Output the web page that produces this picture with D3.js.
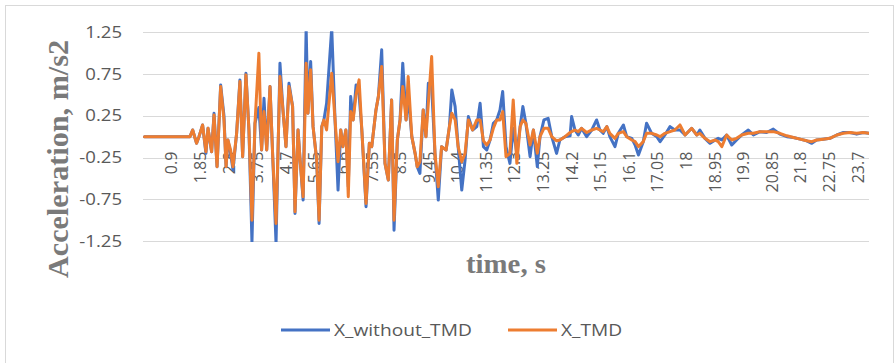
<html>

<head>
    <style>
        body {
            margin: 0;
            font-family: "Open Sans", Arial, sans-serif;
            background: #ffffff;
        }
    </style>

    <script src="https://cdn.jsdelivr.net/npm/d3@7"></script>
</head>

<body>
    <svg id="Grafico"></svg>

<script>
    // tiempo de cada vertice (s)
    let tiempo = [0, 1.51, 1.60, 1.73, 1.81, 1.93, 2.04, 2.11, 2.23, 2.31, 2.41, 2.53, 2.64, 2.71, 2.77, 2.86, 2.94,
        3.06, 3.17, 3.26, 3.37, 3.47, 3.57, 3.67, 3.80, 3.89, 3.97, 4.06, 4.17, 4.26, 4.37, 4.50, 4.60, 4.70, 4.80,
        4.92, 5.00, 5.10, 5.17, 5.27, 5.37, 5.43, 5.52, 5.60, 5.72, 5.80, 5.89, 5.96, 6.05, 6.22, 6.33, 6.43, 6.52,
        6.59, 6.69, 6.77, 6.85, 6.93, 7.03, 7.13, 7.22, 7.36, 7.47, 7.55, 7.69, 7.77, 7.88, 7.99, 8.10, 8.21, 8.29,
        8.40, 8.49, 8.58, 8.69, 8.76, 8.88, 8.99, 9.06, 9.15, 9.26, 9.35, 9.43, 9.54, 9.65, 9.76, 9.87, 10.02, 10.13,
        10.21, 10.32, 10.42, 10.54, 10.65, 10.76, 10.90, 11.04, 11.15, 11.26, 11.37, 11.48, 11.59, 11.70, 11.81,
        11.90, 12.01, 12.14, 12.25, 12.37, 12.48, 12.57, 12.67, 12.81, 12.92, 13.05, 13.14, 13.27, 13.41, 13.53,
        13.69, 13.80, 13.97, 14.14, 14.19, 14.30, 14.41, 14.52, 14.69, 14.86, 15.02, 15.13, 15.24, 15.36, 15.46,
        15.63, 15.74, 15.91, 16.02, 16.19, 16.30, 16.41, 16.57, 16.68, 16.85, 17.02, 17.13, 17.29, 17.46, 17.62,
        17.79, 17.96, 18.18, 18.35, 18.45, 18.62, 18.79, 18.96, 19.06, 19.18, 19.34, 19.51, 19.67, 19.84, 20.06,
        20.23, 20.45, 20.67, 20.89, 21.11, 21.34, 21.56, 21.78, 22.00, 22.17, 22.33, 22.55, 22.77, 23.00, 23.22,
        23.44, 23.66, 23.88, 24.07];

    let sinTMD = [0, 0, 0.08, -0.08, 0, 0.14, -0.2, 0.1, -0.18, 0.28, -0.36, 0.62, 0.25, -0.36, -0.04, -0.2, -0.4,
        0.04, 0.68, -0.24, 0.76, 0.08, -1.26, 0.16, 0.35, -0.16, 0.46, -0.16, 0.6, -0.24, -1.28, 0.88, 0.32, -0.12, 0.64,
        0.36, -0.92, 0.08, -0.28, -0.76, 1.3, 0.28, 0.9, 0.12, -0.28, -1.04, 0.12, 0.2, 0.4, 1.3, 0.2, -0.64, 0.08,
        -0.12, 0.08, -0.6, 0.48, 0.2, 0.62, 0.5, 0.08, -0.84, -0.08, -0.12, 0.32, 0.48, 1.04, -0.32, -0.52, 0.44, -1.12,
        -0.04, 0.2, 0.88, 0.2, 0.5, 0, -0.2, -0.36, -0.44, 0.32, 0, 0.64, 0.6, -0.2, -0.76, -0.12, -0.16, 0.12,
        0.56, 0.36, -0.12, -0.64, -0.28, 0.24, 0.08, 0.12, 0.4, -0.12, -0.16, -0.04, 0.16, 0.2, 0.32,
        0.54, -0.12, -0.32, 0.1, -0.2, 0.12, 0.36, 0.16, -0.24, 0.08, -0.36, 0, 0.2, 0.22, 0,
        -0.2, -0.04, 0, 0.01, 0.24, 0.08, 0.02, 0.1, 0, 0.08, 0.2, 0.08, 0.04, 0.12, 0,
        -0.12, 0.04, 0.14, 0, -0.02, -0.1, -0.22, -0.06, 0.16, 0.04, 0, -0.06, 0.02, 0.12, 0.08,
        0.08, 0.02, 0.1, 0.02, 0.08, -0.02, -0.08, -0.04, -0.02, -0.04, 0.02, -0.1, -0.04, 0.02, 0.08,
        0.02, 0.06, 0.05, 0.09, 0.03, 0, -0.01, -0.03, -0.05, -0.08, -0.04, -0.03, -0.02, 0.02, 0.05,
        0.05, 0.03, 0.05, 0.04];

    let conTMD = [0, 0, 0.08, -0.08, 0, 0.14, -0.18, 0.1, -0.18, 0.26, -0.36, 0.6, 0.2, -0.36, -0.04, -0.16, -0.36,
        0.04, 0.66, -0.24, 0.74, 0.08, -1.0, 0.16, 1.0, -0.16, 0.3, -0.16, 0.6, -0.24, -1.04, 0.72, 0.32, -0.12, 0.6,
        0.36, -0.9, 0.08, -0.28, -0.72, 0.88, 0.28, 0.8, 0.12, -0.28, -1.0, 0.12, 0.2, 0.08, 0.76, 0.2, -0.3, 0.08,
        -0.12, 0.08, -0.72, 0.3, 0.2, 0.5, 0.68, 0.08, -0.8, -0.08, -0.12, 0.32, 0.48, 0.84, -0.32, -0.52, 0.44, -1.0,
        -0.04, 0.2, 0.6, 0.2, 0.72, 0, -0.2, -0.36, -0.3, 0.32, 0, 0.4, 0.96, -0.2, -0.6, -0.12, -0.16, 0.12,
        0.28, 0.2, -0.12, -0.3, -0.2, 0.2, 0.08, 0.2, 0.2, -0.05, -0.1, -0.04, 0.1, 0.2, 0.2,
        0.3, -0.24, -0.2, 0.44, -0.32, 0.12, 0.2, 0.16, -0.1, 0.08, -0.2, 0, 0.1, 0.1, 0,
        -0.05, -0.04, 0, 0.05, 0.06, 0.08, 0.06, 0.1, 0.05, 0.08, 0.1, 0.08, 0.06, 0.12, 0.04,
        -0.02, 0.04, 0.06, 0, -0.04, -0.06, -0.12, -0.06, 0.04, 0.04, 0.02, 0, 0.04, 0.06, 0.08,
        0.14, 0.02, 0.1, 0.02, 0.04, -0.02, -0.06, -0.04, -0.06, -0.12, 0.02, -0.04, -0.02, 0.02, 0.04,
        0.04, 0.06, 0.06, 0.06, 0.04, 0.01, -0.01, -0.03, -0.05, -0.06, -0.04, -0.03, -0.02, 0.02, 0.04,
        0.05, 0.04, 0.05, 0.04];

    let marcasX = ["0.9", "1.85", "2.8", "3.75", "4.7", "5.65", "6.6", "7.55", "8.5", "9.45", "10.4", "11.35",
        "12.3", "13.25", "14.2", "15.15", "16.1", "17.05", "18", "18.95", "19.9", "20.85", "21.8", "22.75", "23.7"];
    let marcasY = [-1.25, -0.75, -0.25, 0.25, 0.75, 1.25];

    let series = [
        { nombre: "X_without_TMD", valores: sinTMD, color: "#4472C4" },
        { nombre: "X_TMD", valores: conTMD, color: "#ED7D31" }
    ];

    // el grafico original esta un poco estirado en horizontal
    const estiramiento = 1.16;

    function configuracion() {
        let ancho = 895;
        let alto = 363;
        let area = { left: 143, right: 869, top: 32.3, bottom: 241 };
        let contenedor = d3.select("#Grafico")
            .attr("width", ancho)
            .attr("height", alto);
        return { ancho, alto, area, contenedor };
    }

    function escalas(conf) {
        let { area } = conf;
        let escalaX = d3.scaleLinear()
            .domain([-0.05, 24.07])
            .range([area.left, area.right]);
        let escalaY = d3.scaleLinear()
            .domain([-1.25, 1.25])
            .range([area.bottom, area.top]);
        return { escalaX, escalaY };
    }

    function estirar(seleccion) {
        seleccion.each(function () {
            let largo = this.getComputedTextLength();
            d3.select(this)
                .attr("textLength", largo * estiramiento)
                .attr("lengthAdjust", "spacingAndGlyphs");
        });
    }

    function dibujarMarco(conf) {
        conf.contenedor.append("rect")
            .attr("width", conf.ancho).attr("height", conf.alto).attr("fill", "#ffffff");
        conf.contenedor.append("rect")
            .attr("x", 5.5).attr("y", 5.5)
            .attr("width", 888).attr("height", 362)
            .attr("fill", "none")
            .attr("stroke", "#d9d9d9");
    }

    function dibujarEjes(conf, esc) {
        let { contenedor, area } = conf;
        let { escalaX, escalaY } = esc;

        // lineas de la rejilla y linea del eje en 0
        contenedor.append("g")
            .selectAll("line")
            .data(marcasY.concat([0]))
            .enter().append("line")
                .attr("x1", area.left).attr("x2", area.right)
                .attr("y1", d => Math.round(escalaY(d)) + 0.5)
                .attr("y2", d => Math.round(escalaY(d)) + 0.5)
                .attr("stroke", "#d9d9d9")
                .attr("stroke-width", 1);

        let ejeY = d3.axisLeft(escalaY)
            .tickValues(marcasY)
            .tickSize(0)
            .tickPadding(0)
            .tickFormat(d => d.toFixed(2));   // guion normal, no el signo menos unicode
        let gY = contenedor.append("g")
            .attr("transform", `translate(${area.left - 21},0)`)
            .call(ejeY);
        gY.select(".domain").remove();
        gY.selectAll("text")
            .attr("fill", "#595959")
            .style("font-family", '"Open Sans", sans-serif')
            .style("font-size", "16px")
            .call(estirar);

        // etiquetas verticales del eje de categorias, colgadas bajo la linea del 0
        let y0 = escalaY(0);
        contenedor.append("g")
            .selectAll("text")
            .data(marcasX)
            .enter().append("text")
                .attr("transform", d => `translate(${escalaX(+d)},${y0 + 15}) rotate(-90)`)
                .attr("text-anchor", "end")
                .attr("dy", "0.36em")
                .attr("fill", "#595959")
                .style("font-size", "16px")
                .text(d => d);
    }

    function dibujarLineas(conf, esc) {
        let { contenedor, area } = conf;
        let { escalaX, escalaY } = esc;

        contenedor.append("clipPath").attr("id", "recorte")
            .append("rect")
            .attr("x", area.left).attr("y", area.top - 1)
            .attr("width", area.right - area.left)
            .attr("height", area.bottom - area.top + 2);

        let linea = d3.line()
            .x((d, i) => escalaX(tiempo[i]))
            .y(d => escalaY(d));

        contenedor.append("g")
            .attr("clip-path", "url(#recorte)")
            .selectAll("path")
            .data(series)
            .enter().append("path")
                .attr("d", s => linea(s.valores))
                .attr("fill", "none")
                .attr("stroke", s => s.color)
                .attr("stroke-width", 3)
                .attr("stroke-linejoin", "round")
                .attr("stroke-linecap", "round");
    }

    function dibujarTitulos(conf) {
        let { contenedor } = conf;

        contenedor.append("text")
            .attr("transform", "translate(68,159) rotate(-90)")
            .attr("text-anchor", "middle")
            .attr("fill", "#7a7a7a")
            .style("font-family", '"Liberation Serif", "Times New Roman", serif')
            .style("font-weight", "bold")
            .style("font-size", "30px")
            .attr("textLength", 238)
            .attr("lengthAdjust", "spacingAndGlyphs")
            .text("Acceleration, m/s2");

        contenedor.append("text")
            .attr("x", 506).attr("y", 273)
            .attr("text-anchor", "middle")
            .attr("fill", "#7a7a7a")
            .style("font-family", '"Liberation Serif", "Times New Roman", serif')
            .style("font-weight", "bold")
            .style("font-size", "27px")
            .attr("textLength", 80)
            .attr("lengthAdjust", "spacingAndGlyphs")
            .text("time, s");
    }

    function dibujarLeyenda(conf) {
        let { contenedor } = conf;
        let posiciones = [281, 508];

        let items = contenedor.append("g")
            .selectAll("g")
            .data(series)
            .enter().append("g")
                .attr("transform", (d, i) => `translate(${posiciones[i]},330)`);

        items.append("line")
            .attr("x1", 0).attr("x2", 49)
            .attr("stroke", d => d.color)
            .attr("stroke-width", 3);

        items.append("text")
            .attr("x", 53)
            .attr("y", 6)
            .attr("fill", "#595959")
            .style("font-size", "16.5px")
            .text(d => d.nombre)
            .call(estirar);
    }

    let conf = configuracion();
    let esc = escalas(conf);
    dibujarMarco(conf);
    dibujarEjes(conf, esc);
    dibujarLineas(conf, esc);
    dibujarTitulos(conf);
    dibujarLeyenda(conf);
</script>
</body>
</html>
